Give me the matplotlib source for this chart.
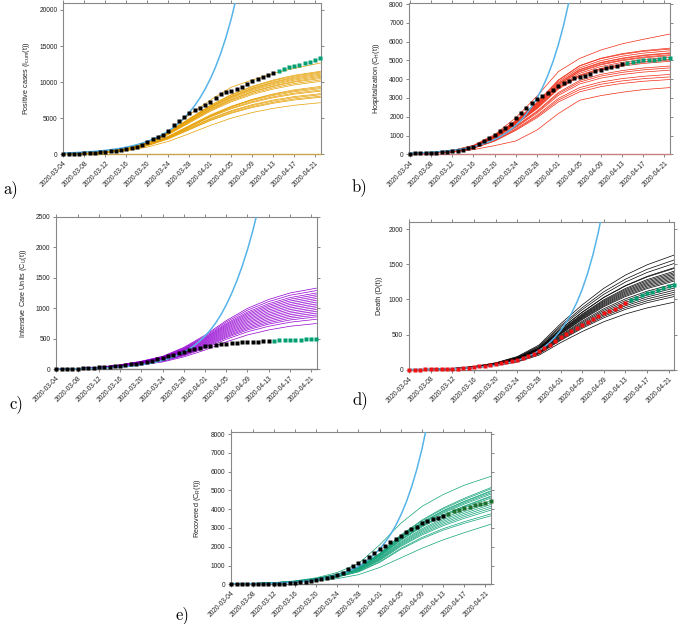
import matplotlib
matplotlib.use('Agg')
import matplotlib.pyplot as plt
import pandas as pd

plt.rcParams['font.family'] = ['Liberation Sans', 'DejaVu Sans']
plt.rcParams['mathtext.fontset'] = 'custom'
plt.rcParams['mathtext.rm'] = 'Liberation Sans'
plt.rcParams['mathtext.it'] = 'Liberation Sans:italic'

# ---------------- dates ----------------
start = '2020-03-04'
dates_black = pd.date_range('2020-03-04', '2020-04-13')
dates_green = pd.date_range('2020-04-14', '2020-04-22')
ens_dates = pd.to_datetime(['2020-03-04', '2020-03-08', '2020-03-12', '2020-03-16',
                            '2020-03-20', '2020-03-24', '2020-03-28', '2020-04-01',
                            '2020-04-05', '2020-04-09', '2020-04-13', '2020-04-17',
                            '2020-04-22'])
tick_labels = ['2020-03-04', '2020-03-08', '2020-03-12', '2020-03-16', '2020-03-20',
               '2020-03-24', '2020-03-28', '2020-04-01', '2020-04-05', '2020-04-09',
               '2020-04-13', '2020-04-17', '2020-04-21']

# ---------------- a) positive cases ----------------
a_black = [30, 50, 70, 100, 130, 170, 210, 260, 330, 410, 500, 600, 720, 880, 1080, 1330,
           1650, 2110, 2340, 2708, 3260, 4041, 4639, 5190, 5743, 6202, 6478, 6846, 7260,
           7857, 8317, 8593, 8731, 9007, 9375, 9789, 10111, 10386, 10708, 10938, 11260]
a_green = [11536, 11766, 12041, 12271, 12409, 12639, 12823, 13007, 13375]
a_blue = [170, 197, 228, 264, 306, 355, 411, 476, 552, 639, 740, 858, 993, 1151, 1333,
          1544, 1789, 2072, 2400, 2781, 3221, 3731, 4322, 5007, 5800, 6719, 7783, 9016,
          10445, 12099, 14016, 16236, 18808, 21787, 25238]
a_ens = [
    [30, 100, 300, 700, 1500, 3000, 5500, 7500, 9300, 10300, 11200, 11900, 12650],
    [35, 127, 345, 805, 1725, 3105, 4945, 6785, 8280, 9430, 10293, 10948, 11500],
    [34, 125, 341, 797, 1707, 3073, 4893, 6714, 8194, 9332, 10185, 10834, 11380],
    [34, 124, 338, 788, 1688, 3038, 4838, 6600, 8050, 9180, 10030, 10690, 11250],
    [33, 122, 333, 777, 1665, 2997, 4773, 6549, 7992, 9102, 9935, 10567, 11100],
    [33, 120, 329, 767, 1643, 2957, 4709, 6461, 7884, 8979, 9800, 10424, 10950],
    [32, 119, 324, 756, 1620, 2916, 4644, 6372, 7776, 8856, 9666, 10282, 10800],
    [32, 117, 320, 746, 1598, 2876, 4580, 6240, 7610, 8690, 9500, 10120, 10650],
    [32, 116, 315, 735, 1575, 2835, 4515, 6195, 7560, 8610, 9398, 9996, 10500],
    [31, 113, 309, 721, 1545, 2781, 4429, 6077, 7416, 8446, 9219, 9806, 10300],
    [30, 111, 303, 707, 1515, 2727, 4343, 5959, 7272, 8282, 9040, 9615, 10100],
    [28, 103, 282, 639, 1316, 2350, 3760, 5264, 6580, 7614, 8366, 8930, 9400],
    [28, 102, 278, 648, 1388, 2498, 3978, 5458, 6660, 7585, 8279, 8806, 9250],
    [27, 100, 273, 637, 1365, 2457, 3913, 5369, 6552, 7462, 8145, 8663, 9100],
    [27, 98, 267, 623, 1335, 2403, 3827, 5251, 6408, 7298, 7966, 8473, 8900],
    [26, 96, 263, 613, 1313, 2363, 3763, 5163, 6300, 7175, 7831, 8330, 8750],
    [25, 92, 252, 588, 1260, 2268, 3612, 4956, 6048, 6888, 7518, 7997, 8400],
    [25, 91, 248, 578, 1238, 2228, 3548, 4868, 5940, 6765, 7384, 7854, 8250],
    [24, 89, 242, 564, 1208, 2174, 3462, 4750, 5796, 6601, 7205, 7664, 8050],
    [24, 87, 237, 553, 1185, 2133, 3397, 4661, 5688, 6478, 7071, 7521, 7900],
    [21, 79, 215, 486, 1001, 1788, 2860, 4004, 5005, 5792, 6364, 6793, 7150],
]

# ---------------- b) hospitalization ----------------
b_black = [40, 45, 55, 65, 80, 95, 110, 130, 160, 200, 250, 320, 410, 540, 692, 869, 1029,
           1242, 1401, 1597, 1916, 2182, 2484, 2714, 2963, 3104, 3264, 3442, 3637, 3796,
           3920, 4045, 4098, 4187, 4293, 4417, 4506, 4595, 4666, 4701, 4790]
b_green = [4878, 4914, 4949, 5003, 5020, 5038, 5074, 5109, 5127]
b_blue = [56, 66, 78, 92, 108, 128, 151, 178, 210, 248, 293, 346, 409, 483, 570, 673, 795,
          938, 1108, 1308, 1544, 1823, 2152, 2541, 3000, 3542, 4182, 4937, 5829, 6881,
          8124, 9591]
b_ens = [
    [45, 80, 200, 480, 1050, 1950, 3100, 4400, 5100, 5550, 5880, 6120, 6400],
    [45, 85, 198, 452, 989, 1808, 2769, 3955, 4718, 5113, 5356, 5520, 5650],
    [45, 84, 195, 446, 977, 1786, 2734, 3930, 4700, 5090, 5320, 5480, 5600],
    [44, 83, 193, 441, 964, 1763, 2700, 3857, 4601, 4987, 5223, 5383, 5510],
    [44, 82, 190, 435, 952, 1741, 2666, 3790, 4515, 4890, 5120, 5280, 5400],
    [43, 81, 188, 430, 940, 1718, 2631, 3759, 4484, 4860, 5091, 5246, 5370],
    [42, 80, 186, 424, 928, 1696, 2597, 3710, 4426, 4797, 5024, 5178, 5300],
    [42, 78, 183, 418, 915, 1674, 2563, 3680, 4390, 4760, 4985, 5135, 5250],
    [41, 77, 181, 413, 903, 1651, 2528, 3612, 4309, 4670, 4892, 5041, 5160],
    [41, 76, 178, 407, 891, 1629, 2494, 3540, 4220, 4575, 4790, 4935, 5050],
    [40, 75, 176, 402, 879, 1606, 2460, 3514, 4192, 4543, 4759, 4905, 5020],
    [40, 74, 173, 396, 866, 1584, 2426, 3465, 4133, 4480, 4693, 4836, 4950],
    [38, 71, 165, 376, 823, 1504, 2303, 3290, 3925, 4254, 4456, 4592, 4700],
    [37, 69, 161, 368, 805, 1472, 2254, 3220, 3841, 4163, 4361, 4494, 4600],
    [36, 67, 157, 358, 784, 1434, 2195, 3136, 3741, 4054, 4247, 4377, 4480],
    [34, 64, 149, 340, 744, 1360, 2083, 2975, 3549, 3846, 4029, 4152, 4250],
    [33, 62, 144, 330, 721, 1318, 2019, 2884, 3440, 3729, 3906, 4025, 4120],
    [32, 60, 139, 318, 697, 1274, 1950, 2786, 3323, 3602, 3773, 3888, 3980],
    [28, 50, 107, 249, 462, 710, 1296, 2166, 2876, 3124, 3302, 3444, 3550],
]

# ---------------- c) intensive care ----------------
c_black = [5, 6, 8, 10, 13, 16, 20, 25, 30, 36, 43, 51, 60, 70, 82, 95, 110, 126, 143, 170,
           192, 214, 236, 263, 291, 313, 334, 356, 378, 389, 406, 411, 422, 433, 439, 444,
           450, 455, 455, 461, 461]
c_green = [471, 474, 477, 480, 482, 488, 491, 493, 499]
c_blue = [5, 6, 7, 9, 10, 12, 14, 17, 20, 23, 28, 33, 38, 45, 54, 63, 75, 88, 104, 123, 145,
          171, 202, 238, 281, 332, 391, 462, 545, 643, 758, 895, 1056, 1240, 1450, 1690,
          1960, 2270, 2620]
c_ens = [
    [5, 13, 33, 73, 133, 213, 359, 559, 798, 998, 1144, 1250, 1330],
    [5, 13, 32, 71, 129, 206, 348, 542, 774, 968, 1109, 1213, 1290],
    [5, 13, 31, 69, 125, 200, 338, 525, 750, 938, 1075, 1175, 1250],
    [5, 12, 31, 67, 122, 195, 329, 512, 732, 915, 1049, 1147, 1220],
    [5, 12, 30, 65, 119, 190, 321, 500, 714, 893, 1023, 1119, 1190],
    [5, 12, 29, 64, 116, 186, 313, 487, 696, 870, 998, 1090, 1160],
    [5, 11, 28, 62, 113, 181, 305, 475, 678, 848, 972, 1062, 1130],
    [4, 11, 28, 61, 110, 176, 297, 462, 660, 825, 946, 1034, 1100],
    [4, 11, 27, 59, 107, 171, 289, 449, 642, 803, 920, 1006, 1070],
    [4, 10, 26, 57, 104, 166, 281, 437, 624, 780, 894, 978, 1040],
    [4, 10, 25, 56, 101, 162, 273, 424, 606, 758, 869, 949, 1010],
    [4, 10, 25, 54, 98, 157, 265, 412, 588, 735, 843, 921, 980],
    [4, 10, 24, 52, 95, 152, 257, 399, 570, 713, 817, 893, 950],
    [4, 9, 23, 51, 92, 147, 248, 386, 552, 690, 791, 865, 920],
    [4, 9, 22, 49, 89, 142, 240, 374, 534, 668, 765, 837, 890],
    [3, 9, 22, 47, 86, 138, 232, 361, 516, 645, 740, 808, 860],
    [3, 8, 21, 45, 82, 131, 221, 344, 492, 615, 705, 771, 820],
    [3, 8, 19, 41, 75, 120, 203, 315, 450, 563, 645, 705, 750],
]

# ---------------- d) deaths ----------------
d_red = [0, 1, 2, 3, 4, 6, 8, 10, 13, 17, 22, 29, 38, 48, 58, 70, 84, 98, 112, 127, 143,
         165, 190, 225, 265, 310, 358, 408, 465, 512, 556, 598, 640, 680, 720, 760, 800,
         835, 870, 910, 950]
d_green = [995, 1025, 1055, 1085, 1110, 1135, 1160, 1185, 1210]
d_blue = [3.7, 4.4, 5, 6, 7.5, 9, 11, 13, 15, 18, 22, 26, 31, 37.6, 45, 54, 64, 77, 92, 110,
          132, 158, 189, 226, 271, 324, 388, 465, 556, 666, 797, 954, 1142, 1367, 1636,
          1958, 2344]
d_ens = [
    [2, 7, 18, 46, 98, 187, 350, 652, 921, 1157, 1345, 1491, 1630],
    [2, 6, 17, 44, 94, 179, 335, 624, 881, 1108, 1287, 1427, 1560],
    [2, 6, 17, 42, 91, 174, 325, 604, 853, 1072, 1246, 1382, 1510],
    [1, 6, 16, 41, 87, 167, 312, 580, 819, 1030, 1196, 1327, 1450],
    [1, 6, 16, 40, 86, 164, 306, 575, 815, 1025, 1190, 1318, 1440],
    [1, 6, 15, 39, 84, 161, 301, 560, 791, 994, 1155, 1281, 1400],
    [1, 6, 15, 39, 83, 159, 297, 552, 780, 980, 1139, 1263, 1380],
    [1, 5, 15, 38, 82, 156, 292, 544, 768, 966, 1122, 1244, 1360],
    [1, 5, 15, 38, 80, 154, 288, 536, 757, 951, 1106, 1226, 1340],
    [1, 5, 15, 37, 79, 152, 284, 528, 746, 937, 1089, 1208, 1320],
    [1, 5, 14, 36, 78, 150, 280, 520, 735, 923, 1073, 1190, 1300],
    [1, 5, 14, 36, 77, 147, 275, 512, 723, 909, 1056, 1171, 1280],
    [1, 5, 14, 35, 76, 145, 271, 504, 712, 895, 1040, 1153, 1260],
    [1, 5, 13, 34, 73, 140, 262, 488, 689, 866, 1007, 1116, 1220],
    [1, 5, 13, 33, 71, 137, 256, 476, 672, 845, 982, 1089, 1190],
    [1, 5, 13, 32, 70, 133, 249, 464, 655, 824, 957, 1061, 1160],
    [1, 5, 12, 32, 68, 130, 243, 452, 638, 802, 932, 1034, 1130],
    [1, 4, 12, 31, 66, 127, 237, 440, 622, 781, 908, 1007, 1100],
    [1, 4, 12, 30, 64, 123, 230, 428, 605, 760, 883, 979, 1070],
    [1, 4, 11, 29, 62, 120, 224, 416, 588, 738, 858, 952, 1040],
    [1, 4, 11, 27, 58, 110, 206, 384, 542, 682, 792, 878, 960],
]

# ---------------- e) recovered ----------------
e_black = [0, 0, 1, 2, 3, 5, 8, 12, 17, 25, 35, 50, 70, 100, 140, 180, 230, 280, 340, 410,
           516, 622, 800, 996, 1120, 1262, 1440, 1689, 1884, 2044, 2258, 2436, 2596, 2791,
           2933, 3076, 3253, 3378, 3467, 3556, 3627]
e_green = [3769, 3880, 3980, 4060, 4140, 4210, 4280, 4350, 4440]
e_blue = [17, 20, 24, 28, 33, 39, 47, 55, 65, 77, 91, 108, 128, 151, 179, 212, 250, 296,
          350, 414, 490, 580, 686, 812, 960, 1136, 1344, 1590, 1881, 2225, 2632, 3113,
          3683, 4357, 5155, 6098, 7214, 8534]
e_ens = [
    [23, 46, 92, 184, 345, 630, 1100, 2100, 3250, 4150, 4780, 5280, 5750],
    [21, 41, 82, 165, 309, 541, 927, 1648, 2627, 3425, 4069, 4584, 5150],
    [20, 41, 81, 163, 305, 533, 914, 1626, 2591, 3378, 4013, 4521, 5080],
    [20, 40, 80, 160, 301, 526, 902, 1590, 2530, 3300, 3925, 4425, 4980],
    [20, 40, 79, 158, 296, 519, 889, 1581, 2519, 3285, 3903, 4397, 4940],
    [19, 39, 78, 156, 292, 511, 877, 1558, 2484, 3239, 3847, 4334, 4870],
    [19, 38, 77, 154, 288, 504, 864, 1536, 2448, 3192, 3792, 4272, 4800],
    [19, 38, 76, 151, 284, 497, 851, 1500, 2390, 3120, 3705, 4170, 4700],
    [19, 37, 75, 149, 280, 489, 839, 1491, 2377, 3099, 3681, 4147, 4660],
    [18, 37, 73, 147, 275, 482, 826, 1469, 2341, 3052, 3626, 4085, 4590],
    [18, 36, 71, 142, 267, 467, 801, 1424, 2270, 2959, 3516, 3961, 4450],
    [17, 35, 70, 139, 261, 457, 783, 1392, 2219, 2893, 3437, 3872, 4350],
    [17, 34, 68, 136, 255, 446, 765, 1360, 2168, 2826, 3358, 3783, 4250],
    [17, 33, 66, 133, 249, 436, 747, 1328, 2117, 2760, 3279, 3694, 4150],
    [16, 32, 65, 130, 243, 425, 729, 1296, 2066, 2693, 3200, 3605, 4050],
    [16, 32, 63, 126, 237, 415, 711, 1264, 2015, 2627, 3121, 3516, 3950],
    [15, 30, 60, 120, 225, 394, 675, 1200, 1913, 2494, 2963, 3338, 3750],
    [15, 29, 58, 117, 219, 383, 657, 1168, 1862, 2427, 2884, 3249, 3650],
    [13, 26, 48, 96, 176, 304, 512, 896, 1408, 1920, 2368, 2752, 3200],
]

W, H = 685, 624
fig = plt.figure(figsize=(W / 100, H / 100), dpi=100)


def add_axes(left, right, top, bottom):
    return fig.add_axes([left / W, 1 - bottom / H, (right - left) / W, (bottom - top) / H])


panels = [
    dict(box=(63, 320.7, 2.7, 154.3), ens=a_ens, ecol='#E69F00', obs=a_black, ocol='black',
         green=a_green, gcol='#009E73', blue=a_blue, ylim=21000, yticks=range(0, 20001, 5000),
         ylabel='Positive cases (I$_{\\rm cum}$(t))', lab='a)', labpos=(11, 189),
         ylx=-0.12, bcol='#c9a550'),
    dict(box=(409.3, 670, 2.7, 154.3), ens=b_ens, ecol='#F22B14', obs=b_black, ocol='black',
         green=b_green, gcol='#009E73', blue=b_blue, ylim=8070, yticks=range(0, 8001, 1000),
         ylabel='Hospitalization (C$_{\\rm H}$(t))', lab='b)', labpos=(359, 187),
         ylx=-0.105, bcol='#c98080'),
    dict(box=(56, 316.7, 216.7, 369.3), ens=c_ens, ecol='#9400D3', obs=c_black, ocol='black',
         green=c_green, gcol='#009E73', blue=c_blue, ylim=2500, yticks=range(0, 2501, 500),
         ylabel='Intensive Care Units (C$_{\\rm U}$(t))', lab='c)', labpos=(16, 404),
         ylx=-0.104, bcol='#808080'),
    dict(box=(408.7, 674.3, 222, 369.7), ens=d_ens, ecol='black', obs=d_red, ocol='#F01010',
         green=d_green, gcol='#009E73', blue=d_blue, ylim=2100, yticks=range(0, 2001, 500),
         ylabel='Death (D(t))', lab='d)', labpos=(360, 400),
         ylx=-0.097, bcol='#808080'),
    dict(box=(231, 491, 431.7, 584.3), ens=e_ens, ecol='#13A37A', obs=e_black, ocol='black',
         green=e_green, gcol='#1E6E2E', blue=e_blue, ylim=8130, yticks=range(0, 8001, 1000),
         ylabel='Recovered (C$_{\\rm R}$(t))', lab='e)', labpos=(182, 615),
         ylx=-0.108, bcol='#808080'),
]

xmin = pd.Timestamp('2020-03-03 22:00')
xmax = pd.Timestamp('2020-04-22 01:00')
tick_dates = pd.to_datetime(tick_labels)

for p in panels:
    ax = add_axes(*p['box'])
    for curve in p['ens']:
        ax.plot(ens_dates, curve, color=p['ecol'], lw=0.5, zorder=2)
    bdates = pd.date_range(start, periods=len(p['blue']))
    ax.plot(bdates, p['blue'], color='#56B4E9', lw=1.1, zorder=3)
    ax.plot(dates_black, p['obs'], ls='none', marker='s', ms=2.25, color=p['ocol'],
            mec='none', zorder=4, clip_on=False)
    ax.plot(dates_green, p['green'], ls='none', marker='s', ms=2.6, color=p['gcol'],
            mec='none', zorder=4, clip_on=False)
    ax.set_xlim(xmin, xmax)
    ax.set_ylim(0, p['ylim'])
    ax.set_xticks(tick_dates)
    ax.set_xticklabels(tick_labels, rotation=45, ha='right', rotation_mode='anchor')
    ax.set_yticks(list(p['yticks']))
    ax.tick_params(axis='both', which='both', direction='out', length=2.5, width=0.5,
                   colors='#555555', labelcolor='#222222', labelsize=4.8, pad=1.5,
                   top=True, right=True)
    for s in ax.spines.values():
        s.set_color('#888888')
        s.set_linewidth(0.8)
    ax.spines['bottom'].set_color(p['bcol'])
    ax.spines['bottom'].set_linewidth(1.0)
    ax.set_ylabel(p['ylabel'], fontsize=5.2, color='#222222')
    ax.yaxis.set_label_coords(p['ylx'], 0.5)
    fig.text(p['labpos'][0] / W, 1 - p['labpos'][1] / H, p['lab'], fontfamily='cmr10',
             fontsize=12, ha='center', va='center')

fig.savefig('out.png', dpi=100)
